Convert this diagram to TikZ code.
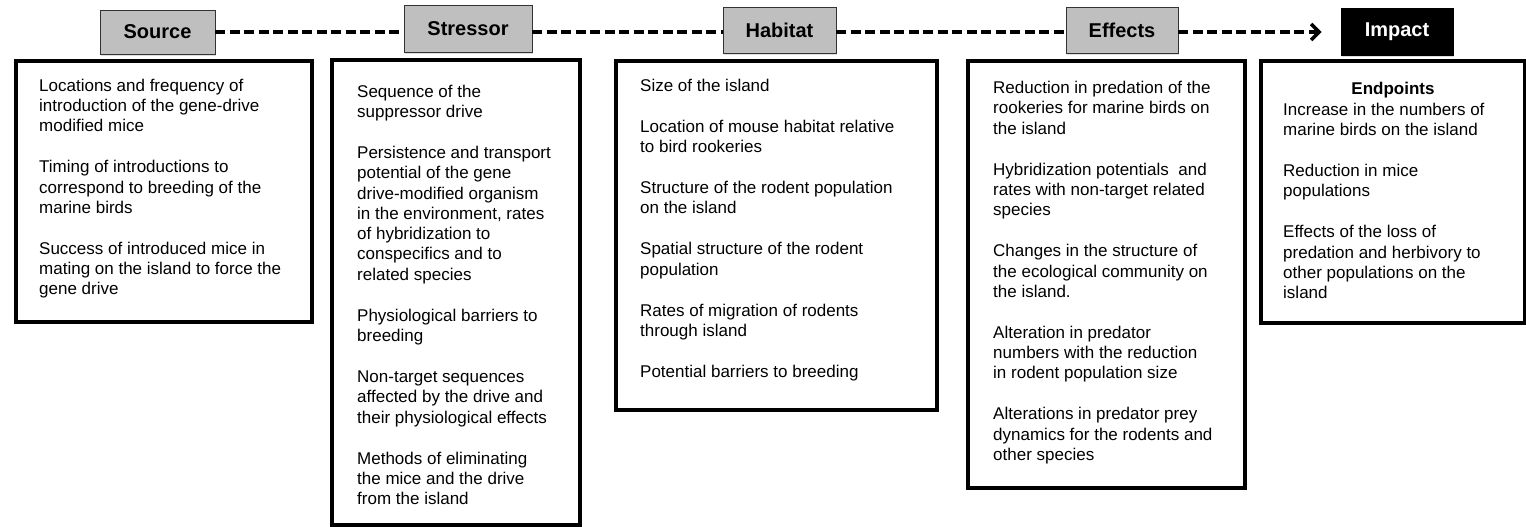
\documentclass[tikz,border=0pt]{standalone}
\usepackage{fontspec}
\setmainfont{Liberation Sans}
\usetikzlibrary{arrows.meta,shadows}
\definecolor{headgray}{RGB}{191,191,191}
\newcommand{\paragap}{\\[20.7pt]}

\begin{document}
\begin{tikzpicture}[x=1pt,y=-1pt,
   headbox/.style={draw=black!80,line width=0.8pt,fill=headgray,inner sep=0pt,
      font=\fontsize{20}{24}\selectfont\bfseries,
      drop shadow={shadow xshift=1pt,shadow yshift=-2.5pt,opacity=0.25}},
   listbox/.style={draw,line width=4pt,anchor=north west,inner sep=0pt},
   listtext/.style={anchor=north west,inner sep=0pt,align=left,
      font=\fontsize{17}{20.3}\selectfont},
   dashline/.style={line width=3.5pt,dash pattern=on 10pt off 4.5pt}]
   \useasboundingbox (0,0) rectangle (1526,527);
   \coordinate (axis) at (0,32);
   % list boxes
   \node[listbox,minimum width=296pt,minimum height=261pt] (srcbox) at (14,59) {};
   \node[listbox,minimum width=248pt,minimum height=465pt] (strsbox) at (330,58) {};
   \node[listbox,minimum width=321pt,minimum height=349pt] (habbox) at (614,59) {};
   \node[listbox,minimum width=277pt,minimum height=427pt] (effbox) at (966,59) {};
   \node[listbox,minimum width=264pt,minimum height=262pt] (impbox) at (1259,59) {};
   % headers
   \node[headbox,minimum width=115pt,minimum height=44pt] (src) at (157.5,32) {Source};
   \node[headbox,minimum width=128pt,minimum height=47pt] (strs) at (468,28.5) {Stressor};
   \node[headbox,minimum width=113pt,minimum height=46pt] (hab) at (779.5,30) {Habitat};
   \node[headbox,minimum width=112pt,minimum height=46pt] (eff) at (1122,30) {Effects};
   \node[headbox,minimum width=112pt,minimum height=47pt,fill=black,draw=black,text=white] (imp) at (1397,31.5) {Impact};
   % dashed chain
   \draw[dashline] (src.east |- axis) -- (strs.west |- axis);
   \draw[dashline] (strs.east |- axis) -- (hab.west |- axis);
   \draw[dashline] (hab.east |- axis) -- (eff.west |- axis);
   \draw[dashline,-{Straight Barb[length=8pt,width=16pt]},shorten >=19pt] (eff.east |- axis) -- (imp.west |- axis);
   % texts
   \node[listtext] (srctxt) at ([shift={(25,19.6)}]srcbox.north west)
      {Locations and frequency of\\introduction of the gene-drive\\modified mice\paragap
       Timing of introductions to\\correspond to breeding of the\\marine birds\paragap
       Success of introduced mice in\\mating on the island to force the\\gene drive};
   \node[listtext] (strstxt) at ([shift={(27,26.6)}]strsbox.north west)
      {Sequence of the\\suppressor drive\paragap
       Persistence and transport\\potential of the gene\\drive-modified organism\\in the environment, rates\\of hybridization to\\conspecifics and to\\related species\paragap
       Physiological barriers to\\breeding\paragap
       Non-target sequences\\affected by the drive and\\their physiological effects\paragap
       Methods of eliminating\\the mice and the drive\\from the island};
   \node[listtext] (habtxt) at ([shift={(26,19.6)}]habbox.north west)
      {Size of the island\paragap
       Location of mouse habitat relative\\to bird rookeries\paragap
       Structure of the rodent population\\on the island\paragap
       Spatial structure of the rodent\\population\paragap
       Rates of migration of rodents\\through island\paragap
       Potential barriers to breeding};
   \node[listtext] (efftxt) at ([shift={(27,22)}]effbox.north west)
      {Reduction in predation of the\\rookeries for marine birds on\\the island\paragap
       Hybridization potentials~ and\\rates with non-target related\\species\paragap
       Changes in the structure of\\the ecological community on\\the island.\paragap
       Alteration in predator\\numbers with the reduction\\in rodent population size\paragap
       Alterations in predator prey\\dynamics for the rodents and\\other species};
   \node[listtext,anchor=north,font=\fontsize{17}{20.3}\selectfont\bfseries] (endpt) at ([yshift=-23pt]impbox.north) {Endpoints};
   \node[listtext] (imptxt) at ([shift={(24,43.6)}]impbox.north west)
      {Increase in the numbers of\\marine birds on the island\paragap
       Reduction in mice\\populations\paragap
       Effects of the loss of\\predation and herbivory to\\other populations on the\\island};
\end{tikzpicture}
\end{document}
